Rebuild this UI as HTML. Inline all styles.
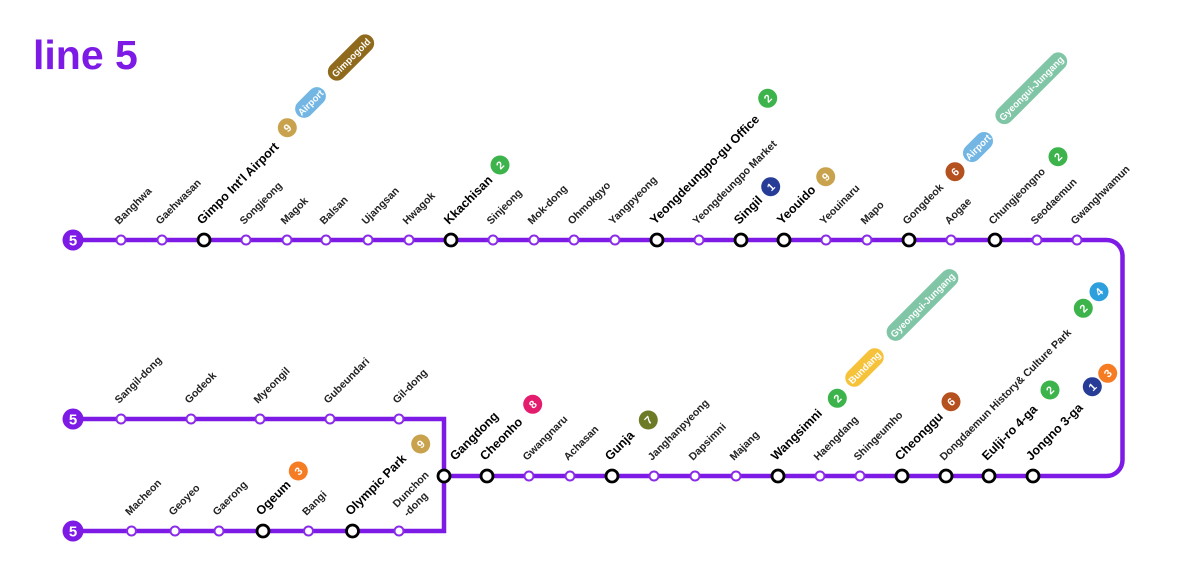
<!DOCTYPE html>
<html><head><meta charset="utf-8">
<style>
html,body{margin:0;padding:0;background:#fff;}
svg{display:block;}
.r{font-family:"Liberation Sans",sans-serif;font-size:10.6px;font-weight:bold;fill:#222;}
.b{font-family:"Liberation Sans",sans-serif;font-size:12.5px;font-weight:bold;fill:#000;}
.n{font-family:"Liberation Sans",sans-serif;font-size:11px;font-weight:bold;fill:#fff;text-anchor:middle;}
.p{font-family:"Liberation Sans",sans-serif;font-size:9.5px;font-weight:bold;fill:#fff;text-anchor:middle;}
.st{fill:#fff;stroke:#8a2be8;stroke-width:2;}
.tr{fill:#fff;stroke:#000;stroke-width:2.8;}
</style></head>
<body>
<svg width="1200" height="570" viewBox="0 0 1200 570" xmlns="http://www.w3.org/2000/svg">
<rect width="1200" height="570" fill="#fff"/>
<text x="33" y="69" font-family="Liberation Sans, sans-serif" font-size="41" font-weight="bold" fill="#7d1ae6">line 5</text>

<!-- lines -->
<g fill="none" stroke="#7d1ae6" stroke-width="4.5">
<path d="M73 240 H1106.5 A16 16 0 0 1 1122.5 256 V460 A16 16 0 0 1 1106.5 476 H444"/>
<path d="M73 419 H444 V531 H73"/>
</g>

<!-- start circles -->
<g>
<circle cx="73" cy="240" r="10.5" fill="#7d1ae6"/><text class="n" x="73" y="245.5" style="font-size:15px">5</text>
<circle cx="73" cy="419" r="10.5" fill="#7d1ae6"/><text class="n" x="73" y="424.5" style="font-size:15px">5</text>
<circle cx="73" cy="531" r="10.5" fill="#7d1ae6"/><text class="n" x="73" y="536.5" style="font-size:15px">5</text>
</g>

<!-- top stations -->
<g>
<circle class="st" cx="121" cy="240" r="4.5"/>
<circle class="st" cx="162" cy="240" r="4.5"/>
<circle class="tr" cx="204" cy="240" r="6"/>
<circle class="st" cx="246" cy="240" r="4.5"/>
<circle class="st" cx="287" cy="240" r="4.5"/>
<circle class="st" cx="326" cy="240" r="4.5"/>
<circle class="st" cx="368" cy="240" r="4.5"/>
<circle class="st" cx="409" cy="240" r="4.5"/>
<circle class="tr" cx="451" cy="240" r="6"/>
<circle class="st" cx="493" cy="240" r="4.5"/>
<circle class="st" cx="534" cy="240" r="4.5"/>
<circle class="st" cx="574" cy="240" r="4.5"/>
<circle class="st" cx="615" cy="240" r="4.5"/>
<circle class="tr" cx="657" cy="240" r="6"/>
<circle class="st" cx="699" cy="240" r="4.5"/>
<circle class="tr" cx="741" cy="240" r="6"/>
<circle class="tr" cx="784" cy="240" r="6"/>
<circle class="st" cx="826" cy="240" r="4.5"/>
<circle class="st" cx="867" cy="240" r="4.5"/>
<circle class="tr" cx="909" cy="240" r="6"/>
<circle class="st" cx="951" cy="240" r="4.5"/>
<circle class="tr" cx="995" cy="240" r="6"/>
<circle class="st" cx="1037" cy="240" r="4.5"/>
<circle class="st" cx="1077" cy="240" r="4.5"/>
</g>

<!-- bottom main stations -->
<g>
<circle class="tr" cx="444" cy="476" r="6"/>
<circle class="tr" cx="487" cy="476" r="6"/>
<circle class="st" cx="529" cy="476" r="4.5"/>
<circle class="st" cx="570" cy="476" r="4.5"/>
<circle class="tr" cx="612" cy="476" r="6"/>
<circle class="st" cx="654" cy="476" r="4.5"/>
<circle class="st" cx="695" cy="476" r="4.5"/>
<circle class="st" cx="736" cy="476" r="4.5"/>
<circle class="tr" cx="778" cy="476" r="6"/>
<circle class="st" cx="820" cy="476" r="4.5"/>
<circle class="st" cx="860" cy="476" r="4.5"/>
<circle class="tr" cx="902" cy="476" r="6"/>
<circle class="tr" cx="946" cy="476" r="6"/>
<circle class="tr" cx="989" cy="476" r="6"/>
<circle class="tr" cx="1033" cy="476" r="6"/>
</g>

<!-- branches -->
<g>
<circle class="st" cx="121" cy="419" r="4.5"/>
<circle class="st" cx="191" cy="419" r="4.5"/>
<circle class="st" cx="260" cy="419" r="4.5"/>
<circle class="st" cx="330" cy="419" r="4.5"/>
<circle class="st" cx="399" cy="419" r="4.5"/>
<circle class="st" cx="131.5" cy="531" r="4.5"/>
<circle class="st" cx="175" cy="531" r="4.5"/>
<circle class="st" cx="219" cy="531" r="4.5"/>
<circle class="tr" cx="263" cy="531" r="6"/>
<circle class="st" cx="308.5" cy="531" r="4.5"/>
<circle class="tr" cx="352.5" cy="531" r="6"/>
<circle class="st" cx="399" cy="531" r="4.5"/>
</g>

<!-- top labels -->
<g>
<text class="r" transform="translate(119,225) rotate(-45)">Banghwa</text>
<text class="r" transform="translate(160,225) rotate(-45)">Gaehwasan</text>
<text class="b" transform="translate(202,225) rotate(-45)">Gimpo Int'l Airport</text>
<text class="r" transform="translate(244,225) rotate(-45)">Songjeong</text>
<text class="r" transform="translate(285,225) rotate(-45)">Magok</text>
<text class="r" transform="translate(324,225) rotate(-45)">Balsan</text>
<text class="r" transform="translate(366,225) rotate(-45)">Ujangsan</text>
<text class="r" transform="translate(407,225) rotate(-45)">Hwagok</text>
<text class="b" transform="translate(449,225) rotate(-45)">Kkachisan</text>
<text class="r" transform="translate(491,225) rotate(-45)">Sinjeong</text>
<text class="r" transform="translate(532,225) rotate(-45)">Mok-dong</text>
<text class="r" transform="translate(572,225) rotate(-45)">Ohmokgyo</text>
<text class="r" transform="translate(613,225) rotate(-45)">Yangpyeong</text>
<text class="b" transform="translate(655,225) rotate(-45)">Yeongdeungpo-gu Office</text>
<text class="r" transform="translate(697,225) rotate(-45)">Yeongdeungpo Market</text>
<text class="b" transform="translate(739,225) rotate(-45)">Singil</text>
<text class="b" transform="translate(782,225) rotate(-45)">Yeouido</text>
<text class="r" transform="translate(824,225) rotate(-45)">Yeouinaru</text>
<text class="r" transform="translate(865,225) rotate(-45)">Mapo</text>
<text class="r" transform="translate(907,225) rotate(-45)">Gongdeok</text>
<text class="r" transform="translate(949,225) rotate(-45)">Aogae</text>
<text class="r" transform="translate(993,225) rotate(-45)">Chungjeongno</text>
<text class="r" transform="translate(1035,225) rotate(-45)">Seodaemun</text>
<text class="r" transform="translate(1075,225) rotate(-45)">Gwanghwamun</text>
</g>

<!-- bottom main labels -->
<g>
<text class="b" transform="translate(455,461) rotate(-45)">Gangdong</text>
<text class="b" transform="translate(485,461) rotate(-45)">Cheonho</text>
<text class="r" transform="translate(527,461) rotate(-45)">Gwangnaru</text>
<text class="r" transform="translate(568,461) rotate(-45)">Achasan</text>
<text class="b" transform="translate(610,461) rotate(-45)">Gunja</text>
<text class="r" transform="translate(652,461) rotate(-45)">Janghanpyeong</text>
<text class="r" transform="translate(693,461) rotate(-45)">Dapsimni</text>
<text class="r" transform="translate(734,461) rotate(-45)">Majang</text>
<text class="b" transform="translate(776,461) rotate(-45)">Wangsimni</text>
<text class="r" transform="translate(818,461) rotate(-45)">Haengdang</text>
<text class="r" transform="translate(858,461) rotate(-45)">Shingeumho</text>
<text class="b" transform="translate(900,461) rotate(-45)">Cheonggu</text>
<text class="r" transform="translate(944,461) rotate(-45)">Dongdaemun History&amp; Culture Park</text>
<text class="b" transform="translate(987,461) rotate(-45)">Eulji-ro 4-ga</text>
<text class="b" transform="translate(1031,461) rotate(-45)">Jongno 3-ga</text>
</g>

<!-- branch labels -->
<g>
<text class="r" transform="translate(119,404) rotate(-45)">Sangil-dong</text>
<text class="r" transform="translate(189,404) rotate(-45)">Godeok</text>
<text class="r" transform="translate(258,404) rotate(-45)">Myeongil</text>
<text class="r" transform="translate(328,404) rotate(-45)">Gubeundari</text>
<text class="r" transform="translate(397,404) rotate(-45)">Gil-dong</text>
<text class="r" transform="translate(129.5,516) rotate(-45)">Macheon</text>
<text class="r" transform="translate(173,516) rotate(-45)">Geoyeo</text>
<text class="r" transform="translate(217,516) rotate(-45)">Gaerong</text>
<text class="b" transform="translate(261,516) rotate(-45)">Ogeum</text>
<text class="r" transform="translate(306.5,516) rotate(-45)">Bangi</text>
<text class="b" transform="translate(350.5,516) rotate(-45)">Olympic Park</text>
<text class="r" transform="translate(397,508) rotate(-45)"><tspan x="0" y="0">Dunchon</tspan><tspan x="1" y="14">-dong</tspan></text>
</g>

<!-- number badges -->
<g>
<circle cx="287.3" cy="127.7" r="9.5" fill="#c9a24e"/><text class="n" transform="translate(287.3,127.7) rotate(-45)" y="4">9</text>
<circle cx="500" cy="165" r="9.5" fill="#3cb44b"/><text class="n" transform="translate(500,165) rotate(-45)" y="4">2</text>
<circle cx="767.7" cy="98.3" r="9.5" fill="#3cb44b"/><text class="n" transform="translate(767.7,98.3) rotate(-45)" y="4">2</text>
<circle cx="770.7" cy="186.7" r="9.5" fill="#263c96"/><text class="n" transform="translate(770.7,186.7) rotate(-45)" y="4">1</text>
<circle cx="825.7" cy="176.7" r="9.5" fill="#c9a24e"/><text class="n" transform="translate(825.7,176.7) rotate(-45)" y="4">9</text>
<circle cx="955" cy="171.7" r="9.5" fill="#b5501f"/><text class="n" transform="translate(955,171.7) rotate(-45)" y="4">6</text>
<circle cx="1058" cy="156.7" r="9.5" fill="#3cb44b"/><text class="n" transform="translate(1058,156.7) rotate(-45)" y="4">2</text>

<circle cx="420.7" cy="444" r="9.5" fill="#c9a24e"/><text class="n" transform="translate(420.7,444) rotate(-45)" y="4">9</text>
<circle cx="298.3" cy="471" r="9.5" fill="#f57c23"/><text class="n" transform="translate(298.3,471) rotate(-45)" y="4">3</text>
<circle cx="532.7" cy="404.3" r="9.5" fill="#e31c6e"/><text class="n" transform="translate(532.7,404.3) rotate(-45)" y="4">8</text>
<circle cx="648.3" cy="420" r="9.5" fill="#6d7a26"/><text class="n" transform="translate(648.3,420) rotate(-45)" y="4">7</text>
<circle cx="837.3" cy="398.3" r="9.5" fill="#3cb44b"/><text class="n" transform="translate(837.3,398.3) rotate(-45)" y="4">2</text>
<circle cx="951" cy="401.7" r="9.5" fill="#b5501f"/><text class="n" transform="translate(951,401.7) rotate(-45)" y="4">6</text>
<circle cx="1083.3" cy="308.3" r="9.5" fill="#3cb44b"/><text class="n" transform="translate(1083.3,308.3) rotate(-45)" y="4">2</text>
<circle cx="1099" cy="291.7" r="9.5" fill="#2e9fdd"/><text class="n" transform="translate(1099,291.7) rotate(-45)" y="4">4</text>
<circle cx="1050" cy="390" r="9.5" fill="#3cb44b"/><text class="n" transform="translate(1050,390) rotate(-45)" y="4">2</text>
<circle cx="1092.3" cy="386.7" r="9.5" fill="#263c96"/><text class="n" transform="translate(1092.3,386.7) rotate(-45)" y="4">1</text>
<circle cx="1107.7" cy="373.3" r="9.5" fill="#f57c23"/><text class="n" transform="translate(1107.7,373.3) rotate(-45)" y="4">3</text>
</g>

<!-- pill badges -->
<g>
<g transform="translate(310.5,102.5) rotate(-45)"><rect x="-18" y="-9" width="36" height="18" rx="9" fill="#73b6e4"/><text class="p" y="3.5">Airport</text></g>
<g transform="translate(351,57.5) rotate(-45)"><rect x="-29" y="-9" width="58" height="18" rx="9" fill="#8f6a1d"/><text class="p" y="3.5">Gimpogold</text></g>
<g transform="translate(978,147) rotate(-45)"><rect x="-17.5" y="-9" width="35" height="18" rx="9" fill="#73b6e4"/><text class="p" y="3.5">Airport</text></g>
<g transform="translate(1031.3,88.3) rotate(-45)"><rect x="-47" y="-9" width="94" height="18" rx="9" fill="#80c6a6"/><text class="p" y="3.5">Gyeongui-Jungang</text></g>
<g transform="translate(864.5,367.5) rotate(-45)"><rect x="-23.5" y="-9" width="47" height="18" rx="9" fill="#f6c23a"/><text class="p" y="3.5">Bundang</text></g>
<g transform="translate(922.5,305) rotate(-45)"><rect x="-47" y="-9" width="94" height="18" rx="9" fill="#80c6a6"/><text class="p" y="3.5">Gyeongui-Jungang</text></g>
</g>
</svg>
</body></html>
